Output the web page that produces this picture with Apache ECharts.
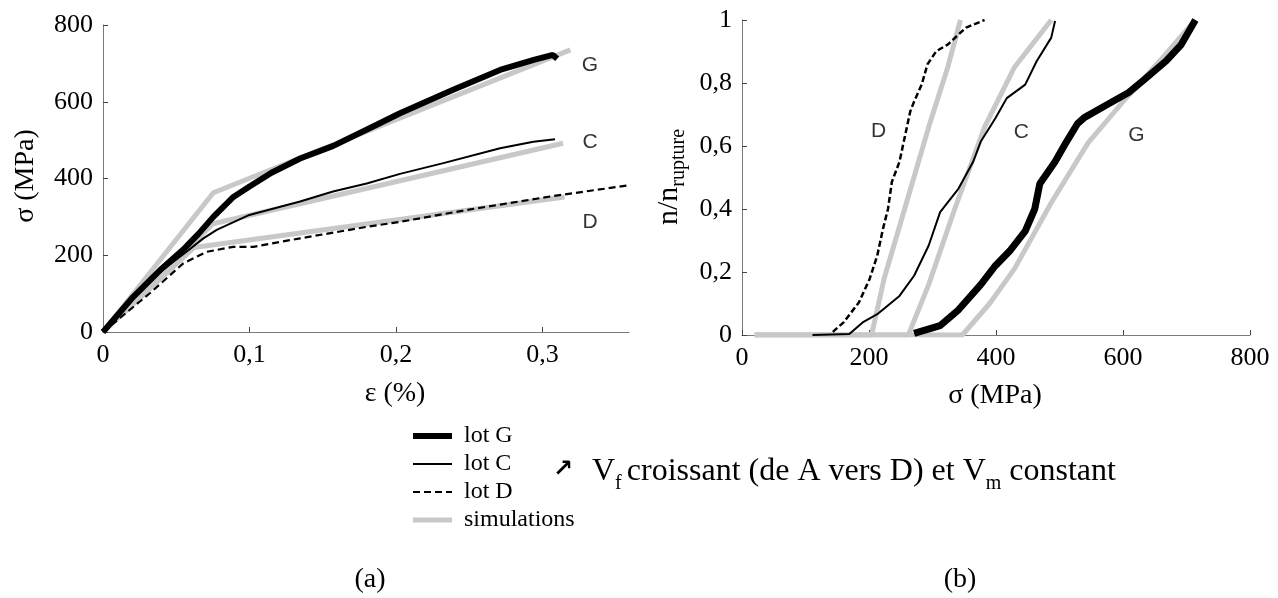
<!DOCTYPE html>
<html><head><meta charset="utf-8">
<script src="https://cdn.jsdelivr.net/npm/echarts@6/dist/echarts.min.js"></script>
<style>html,body{margin:0;padding:0;background:#fff}#c{width:1278px;height:598px}</style>
</head><body><div id="c"></div>
<script>
// ---------- (a) sigma vs epsilon ----------
const epsTickValues = [0.1, 0.2, 0.3];
const epsLabelValues = [0, 0.1, 0.2, 0.3];
const lotG_a = [[0,0],[0.0205,91],[0.04,165],[0.0546,214],[0.065,255],[0.0753,300],[0.089,352],[0.1,379],[0.115,415],[0.1345,452],[0.1572,485],[0.1868,540],[0.2027,570],[0.239,631],[0.271,683],[0.294,709],[0.307,722],[0.31,712]];
const lotC_a = [[0,0],[0.02,85],[0.04,160],[0.0572,210],[0.0685,244],[0.0776,266],[0.0999,305],[0.1345,340],[0.157,366],[0.18,387],[0.2027,412],[0.2323,440],[0.271,479],[0.2937,496],[0.3085,502]];
const lotD_a = [[0,0],[0.032,101],[0.0548,179],[0.0708,209],[0.0889,222],[0.1026,222],[0.1345,244],[0.18,274],[0.2027,287],[0.2483,318],[0.3051,353],[0.36,383]];
const simG_a = [[0,0],[0.0753,363],[0.319,735]];
const simC_a = [[0,0],[0.075,282],[0.314,492]];
const simD_a = [[0,0],[0.062,220],[0.315,352]];
const tags_a = [[0.3324,696,'G'],[0.3324,495,'C'],[0.3324,287,'D']];

// ---------- (b) n/n_rupture vs sigma ----------
const lotG_b = [[271,0.005],[312,0.03],[341,0.08],[376,0.16],[399,0.22],[423,0.27],[446,0.33],[461,0.40],[469,0.48],[493,0.55],[510,0.61],[528,0.67],[539,0.69],[574,0.73],[609,0.77],[633,0.81],[668,0.87],[691,0.92],[714,1.0]];
const lotC_b = [[111,0],[169,0.003],[190,0.04],[213,0.066],[248,0.124],[271,0.188],[294,0.284],[312,0.39],[341,0.465],[364,0.55],[376,0.614],[399,0.688],[417,0.752],[446,0.795],[464,0.869],[487,0.944],[493,0.997]];
const lotD_b = [[143,0.01],[160,0.04],[184,0.103],[201,0.178],[213,0.252],[222,0.337],[230,0.401],[236,0.486],[248,0.55],[257,0.635],[265,0.71],[271,0.741],[283,0.795],[292,0.859],[306,0.901],[324,0.922],[341,0.954],[353,0.976],[382,1.0]];
const simG_b = [[20,0],[347,0],[390,0.1],[429,0.21],[487,0.42],[545,0.61],[604,0.75],[662,0.88],[714,1]];
const simC_b = [[20,0],[262,0],[294,0.16],[335,0.4],[382,0.66],[429,0.85],[487,1]];
const simD_b = [[20,0],[204,0],[224,0.18],[259,0.42],[294,0.66],[324,0.85],[344,1]];
const tags_b = [[215,0.646,'D'],[440,0.643,'C'],[621,0.635,'G']];

const legendNames = ['lot G','lot C','lot D','simulations'];

const SERIF = 'Liberation Serif, Times New Roman, serif';
const comma = v => String(Math.round(v*10)/10).replace('.', ',');
const AX = '#7a7a7a';
const GRAY = '#c8c8c8';

function axisBase(extra) {
  return Object.assign({
    type: 'value',
    axisLine: { show: true, onZero: false, lineStyle: { color: AX, width: 1 } },
    axisTick: { show: true, inside: true, length: 5, lineStyle: { color: '#444', width: 1 } },
    axisLabel: { color: '#000', fontFamily: SERIF, fontSize: 26, margin: 10 },
    splitLine: { show: false }
  }, extra);
}

const simStyle = { color: GRAY, width: 5 };
function line(name, data, xi, style) {
  return { name, type: 'line', xAxisIndex: xi, yAxisIndex: xi, data, symbol: 'none',
    lineStyle: style, itemStyle: { color: style.color }, silent: true, animation: false };
}
function tags(data, xi) {
  return { name: 'tags' + xi, type: 'scatter', xAxisIndex: xi, yAxisIndex: xi, data, symbolSize: 0, silent: true,
    label: { show: true, position: 'inside', formatter: p => p.value[2], color: '#000',
      fontFamily: 'Liberation Sans, Arial, sans-serif', fontSize: 21 } };
}

// legend icon shapes (39 x 14 box; the two leading moves pin the box)
const BOX = 'path://M0,0M39,14';
const legendIcons = {
  'lot G': BOX + 'M0,4h39v6h-39z',
  'lot C': BOX + 'M0,6h39v2h-39z',
  'lot D': BOX + 'M0,6h7v2h-7zM11,6h7v2h-7zM22,6h7v2h-7zM33,6h6v2h-6z',
  'simulations': BOX + 'M0,4.5h39v5h-39z'
};
const legendColors = { 'lot G': '#000', 'lot C': '#000', 'lot D': '#000', 'simulations': GRAY };

const chart = echarts.init(document.getElementById('c'), null, { renderer: 'canvas' });
chart.setOption({
  animation: false,
  backgroundColor: '#fff',
  grid: [
    { left: 103, top: 25, width: 526, height: 307, containLabel: false, outerBoundsMode: 'none' },
    { left: 742, top: 20, width: 508, height: 315, containLabel: false, outerBoundsMode: 'none' }
  ],
  xAxis: [
    axisBase({ gridIndex: 0, min: 0, max: 0.359,
      axisTick: { show: true, inside: true, length: 5, customValues: epsTickValues, lineStyle: { color: '#444' } },
      axisLabel: { color: '#000', fontFamily: SERIF, fontSize: 26, margin: 10, customValues: epsLabelValues, formatter: comma } }),
    axisBase({ gridIndex: 1, min: 0, max: 800, interval: 200 })
  ],
  yAxis: [
    axisBase({ gridIndex: 0, min: 0, max: 800, interval: 200 }),
    axisBase({ gridIndex: 1, min: 0, max: 1, interval: 0.2,
      axisLabel: { color: '#000', fontFamily: SERIF, fontSize: 26, margin: 10, formatter: comma } })
  ],
  legend: {
    data: legendNames.map(n => ({ name: n, icon: legendIcons[n],
      itemStyle: { color: legendColors[n], borderWidth: 0, opacity: 1 } })),
    orient: 'vertical', left: 408, top: 419, itemWidth: 39, itemHeight: 14, itemGap: 4,
    selectedMode: false, symbolKeepAspect: false,
    textStyle: { fontFamily: SERIF, fontSize: 24, color: '#000', padding: [0, 0, 0, 7] }
  },
  series: [
    line('simulations', simG_a, 0, simStyle),
    line('simulations', simC_a, 0, simStyle),
    line('simulations', simD_a, 0, simStyle),
    line('lot G', lotG_a, 0, { color: '#000', width: 6 }),
    line('lot C', lotC_a, 0, { color: '#000', width: 2 }),
    line('lot D', lotD_a, 0, { color: '#000', width: 2.2, type: [7, 4] }),
    tags(tags_a, 0),
    line('simulations', simG_b, 1, simStyle),
    line('simulations', simC_b, 1, simStyle),
    line('simulations', simD_b, 1, simStyle),
    line('lot G', lotG_b, 1, { color: '#000', width: 7 }),
    line('lot C', lotC_b, 1, { color: '#000', width: 2 }),
    line('lot D', lotD_b, 1, { color: '#000', width: 2.5, type: [6, 3] }),
    tags(tags_b, 1)
  ],
  graphic: [
    { type: 'text', x: 26, y: 176, rotation: Math.PI / 2,
      style: { text: 'σ (MPa)', font: '28px ' + SERIF, fill: '#000', align: 'center', verticalAlign: 'middle' } },
    { type: 'text', x: 395, y: 394,
      style: { text: 'ε (%)', font: '28px ' + SERIF, fill: '#000', align: 'center', verticalAlign: 'middle' } },
    { type: 'text', x: 669, y: 177, rotation: Math.PI / 2,
      style: { text: '{n|n/n}{s|rupture}', align: 'center', verticalAlign: 'middle',
        rich: { n: { fontFamily: SERIF, fontSize: 30, lineHeight: 40, fill: '#000' },
                s: { fontFamily: SERIF, fontSize: 20, lineHeight: 40, verticalAlign: 'bottom', fill: '#000' } } } },
    { type: 'text', x: 995, y: 396,
      style: { text: 'σ (MPa)', font: '28px ' + SERIF, fill: '#000', align: 'center', verticalAlign: 'middle' } },
    { type: 'text', x: 553, y: 470,
      style: { text: '↗', font: 'bold 24px DejaVu Sans', fill: '#000', align: 'left', verticalAlign: 'middle' } },
    { type: 'text', x: 592, y: 472,
      style: { text: '{n|V}{s|f }{n|croissant (de A vers D) et V}{s|m}{n| constant}', align: 'left', verticalAlign: 'middle',
        rich: { n: { fontFamily: SERIF, fontSize: 32, lineHeight: 44, fill: '#000' },
                s: { fontFamily: SERIF, fontSize: 20, lineHeight: 44, verticalAlign: 'bottom', fill: '#000' } } } },
    { type: 'text', x: 370, y: 580,
      style: { text: '(a)', font: '28px ' + SERIF, fill: '#000', align: 'center', verticalAlign: 'middle' } },
    { type: 'text', x: 960, y: 580,
      style: { text: '(b)', font: '28px ' + SERIF, fill: '#000', align: 'center', verticalAlign: 'middle' } }
  ]
});
</script></body></html>
